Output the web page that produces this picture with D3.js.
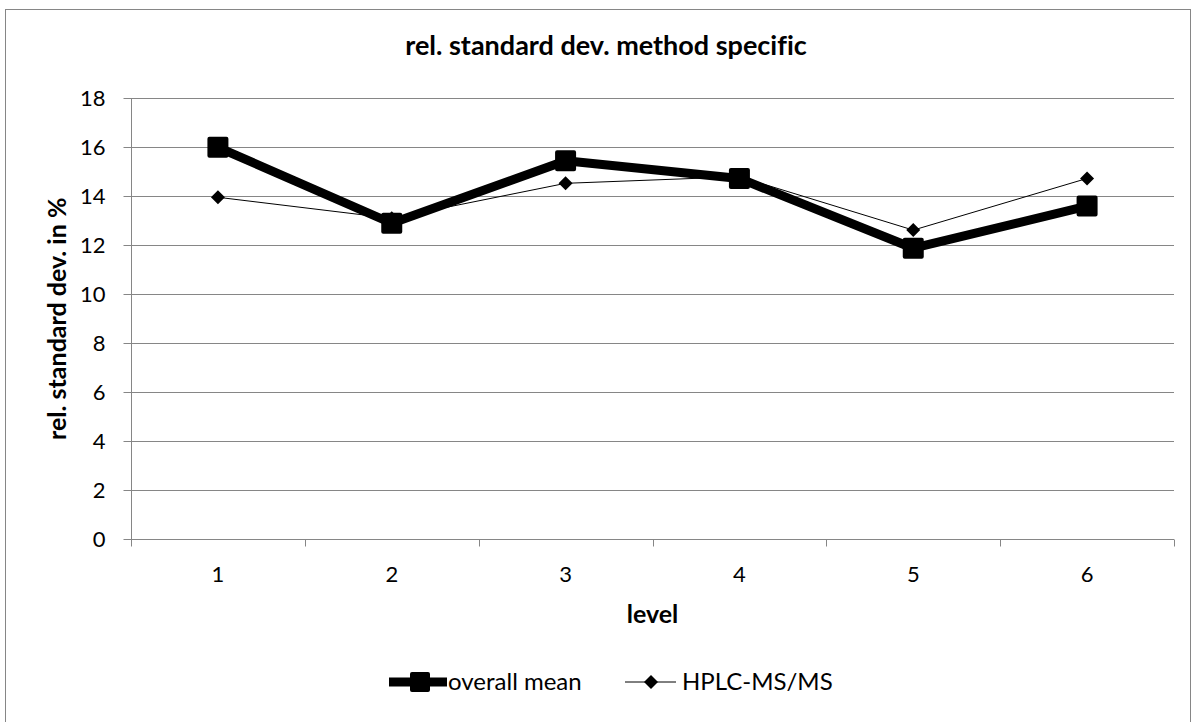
<!DOCTYPE html>
<html><head><meta charset="utf-8">
<script src="https://cdn.jsdelivr.net/npm/d3@7"></script>
<style>body{margin:0;background:#fff}svg text{font-family:Lato,"Liberation Sans",sans-serif;font-variant-ligatures:none;font-feature-settings:"liga" 0}</style>
</head><body>
<svg id="c" width="1197" height="722"></svg>
<script>
const categories = ["1","2","3","4","5","6"];
const overallMean = [16.0, 12.9, 15.45, 14.73, 11.88, 13.6];
const hplcMsMs = [13.96, 13.1, 14.53, 14.8, 12.62, 14.73];
const yTicks = [0,2,4,6,8,10,12,14,16,18];
const title = "rel. standard dev. method specific";
const xTitle = "level";
const yTitle = "rel. standard dev. in %";
const seriesNames = ["overall mean", "HPLC-MS/MS"];

const svg = d3.select("#c");
const L = 131, R = 1174, T = 98.3, B = 539.3;
const x = d3.scaleBand().domain(categories).range([L, R]);
const y = d3.scaleLinear().domain([0, 18]).range([B, T]);
const gridCol = "#868686";

svg.append("rect").attr("x",5.5).attr("y",9.5).attr("width",1185).attr("height",740)
  .attr("fill","none").attr("stroke",gridCol).attr("stroke-width",1);

// gridlines
svg.append("g").selectAll("line").data(yTicks.filter(d=>d>0)).join("line")
  .attr("x1",L).attr("x2",R).attr("y1",d=>Math.round(y(d))+0.5).attr("y2",d=>Math.round(y(d))+0.5)
  .attr("stroke",gridCol).attr("stroke-width",1);

// y axis
const ya = svg.append("g").attr("transform",`translate(${L+0.5},0)`)
  .call(d3.axisLeft(y).tickValues(yTicks).tickSize(8).tickPadding(18));
ya.select(".domain").attr("stroke",gridCol).attr("d",`M0,${B}V${T}`);
ya.selectAll(".tick line").attr("stroke",gridCol);
ya.selectAll(".tick").attr("transform",d=>`translate(0,${Math.round(y(d))+0.5})`);
ya.selectAll("text").attr("font-size",22).attr("fill","#000").attr("font-family","Lato, sans-serif");

// x axis
const xa = svg.append("g").attr("transform",`translate(0,${Math.round(B)+0.5})`)
  .call(d3.axisBottom(x).tickSize(0).tickPadding(27));
xa.select(".domain").attr("stroke",gridCol).attr("d",`M${L},0H${R}`);
xa.selectAll("text").attr("font-size",22).attr("fill","#000").attr("font-family","Lato, sans-serif");
const bounds = categories.map(c=>x(c)).concat([R]);
xa.append("g").selectAll("line").data(bounds).join("line")
  .attr("x1",d=>Math.round(d)+0.5).attr("x2",d=>Math.round(d)+0.5).attr("y1",0).attr("y2",7)
  .attr("stroke",gridCol);

const cx = c => x(c) + x.bandwidth()/2;

// HPLC thin line
const line = d3.line().x((d,i)=>cx(categories[i])).y(d=>y(d));
svg.append("path").datum(hplcMsMs).attr("d",line).attr("fill","none").attr("stroke","#000").attr("stroke-width",1);
svg.append("g").selectAll("path").data(hplcMsMs).join("path")
  .attr("transform",(d,i)=>`translate(${cx(categories[i])},${y(d)})`)
  .attr("d","M0,-7L7,0L0,7L-7,0Z").attr("fill","#000");

// overall mean thick
svg.append("path").datum(overallMean).attr("d",line).attr("fill","none").attr("stroke","#000")
  .attr("stroke-width",9).attr("stroke-linejoin","round");
svg.append("g").selectAll("rect").data(overallMean).join("rect")
  .attr("x",(d,i)=>cx(categories[i])-8.5).attr("y",d=>y(d)-8.5).attr("width",17).attr("height",17)
  .attr("fill","#000").attr("stroke","#000").attr("stroke-width",4).attr("stroke-linejoin","round");

// titles
svg.append("text").attr("x",606).attr("y",55).attr("text-anchor","middle")
  .attr("font-size",27).attr("font-weight","bold").text(title);
svg.append("text").attr("x",(L+R)/2).attr("y",623).attr("text-anchor","middle")
  .attr("font-size",25).attr("font-weight","bold").text(xTitle);
svg.append("text").attr("transform",`translate(66,${(T+B)/2}) rotate(-90)`).attr("text-anchor","middle")
  .attr("font-size",25).attr("font-weight","bold").text(yTitle);

// legend
const ly = 682;
const lg = svg.append("g");
lg.append("line").attr("x1",389).attr("x2",447).attr("y1",ly).attr("y2",ly).attr("stroke","#000").attr("stroke-width",9);
lg.append("rect").attr("x",412).attr("y",ly-8).attr("width",16).attr("height",16).attr("fill","#000")
  .attr("stroke","#000").attr("stroke-width",4).attr("stroke-linejoin","round");
lg.append("text").attr("x",448).attr("y",ly).attr("dy","0.35em").attr("font-size",24).text(seriesNames[0]);
lg.append("line").attr("x1",625).attr("x2",676).attr("y1",ly).attr("y2",ly).attr("stroke","#000").attr("stroke-width",1);
lg.append("path").attr("transform",`translate(651,${ly})`).attr("d","M0,-7L7,0L0,7L-7,0Z").attr("fill","#000");
lg.append("text").attr("x",682).attr("y",ly).attr("dy","0.35em").attr("font-size",24).text(seriesNames[1]);
</script>
</body></html>
